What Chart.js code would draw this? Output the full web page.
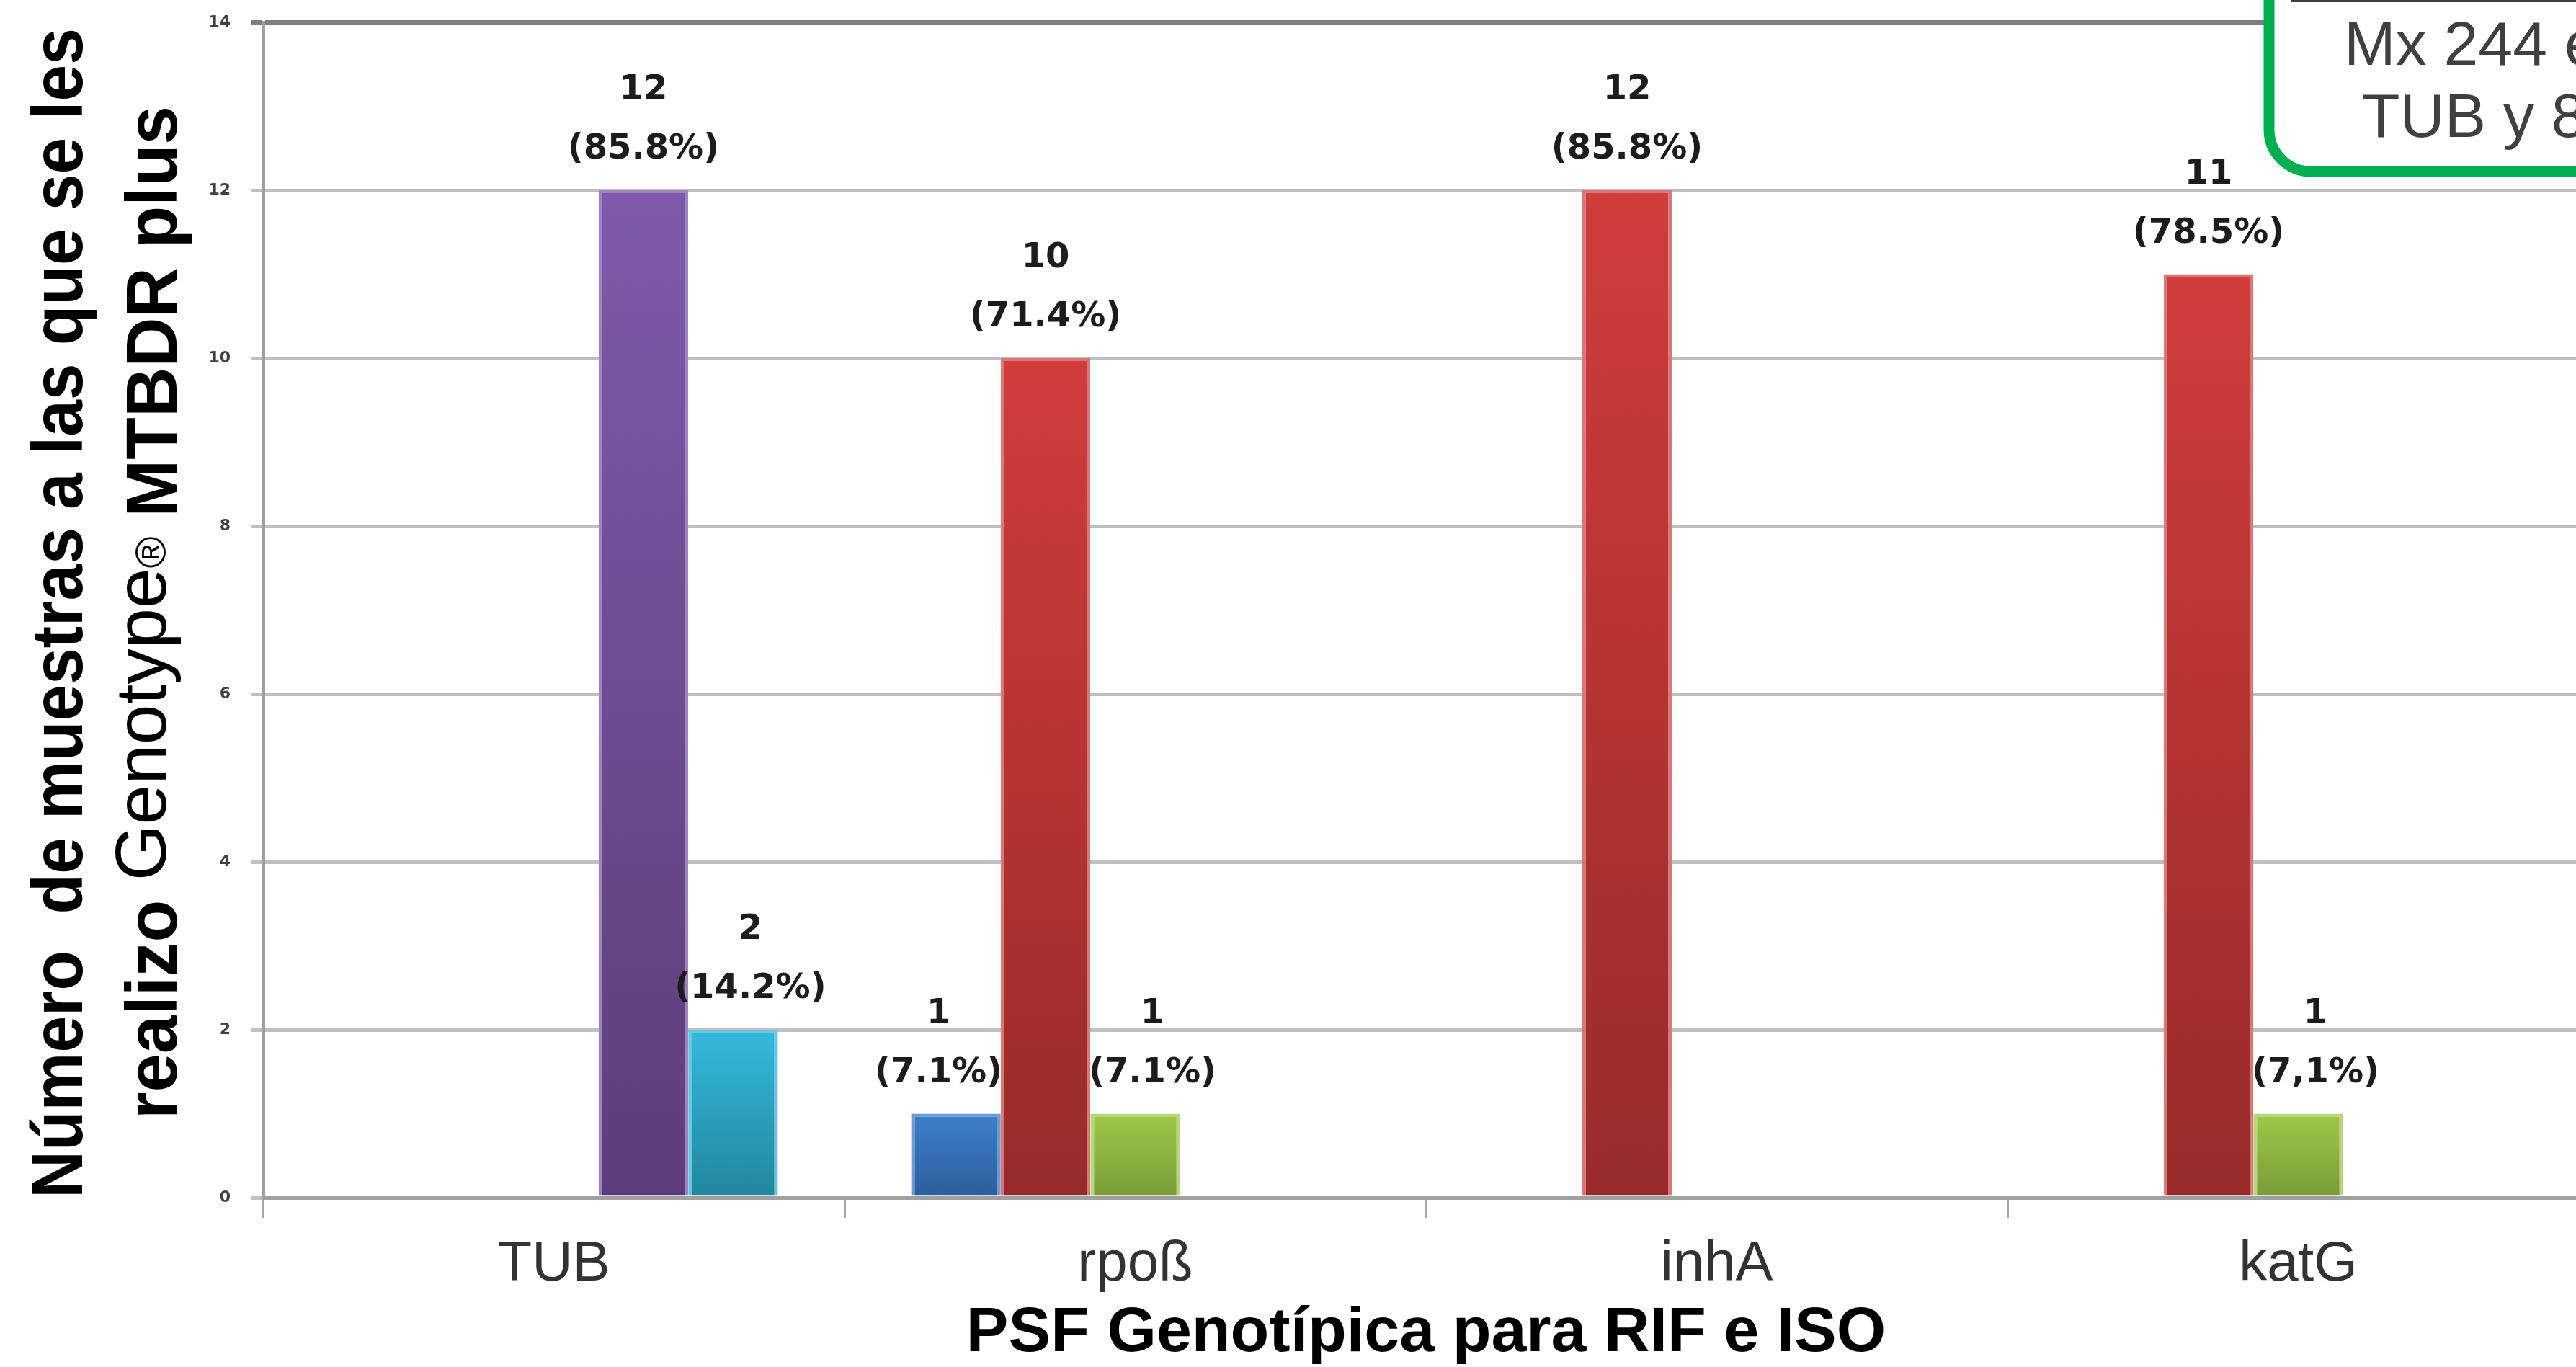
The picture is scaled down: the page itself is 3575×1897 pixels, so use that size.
<!DOCTYPE html>
<html>
<head>
<meta charset="utf-8">
<script src="https://cdn.jsdelivr.net/npm/chart.js@4.4.1/dist/chart.umd.min.js"></script>
<style>
  html, body { margin: 0; padding: 0; background: #fff; overflow: hidden; width: 3575px; height: 1897px; }
  canvas { display: block; }
</style>
</head>
<body>
<canvas id="chart" width="3620" height="1897"></canvas>
<script>
// Categories on the x axis
const categories = ['TUB', 'rpoß', 'inhA', 'katG'];

// Sample counts per series (null = no bar in that group)
const seriesBlue   = [null, 1, null, null];
const seriesRed    = [null, 10, 12, 11];
const seriesGreen  = [null, 1, null, 1];
const seriesPurple = [12, null, null, null];
const seriesCyan   = [2, null, null, null];

// Percentage text shown under each count
const pctBlue   = [null, '(7.1%)', null, null];
const pctRed    = [null, '(71.4%)', '(85.8%)', '(78.5%)'];
const pctGreen  = [null, '(7.1%)', null, '(7,1%)'];
const pctPurple = ['(85.8%)', null, null, null];
const pctCyan   = ['(14.2%)', null, null, null];

// Y axis ticks
const yTicks = [0, 2, 4, 6, 8, 10, 12, 14];

// Axis titles and note box text
const xTitle = 'PSF Genotípica para RIF e ISO';
const yTitleLine1 = 'Número  de muestras a las que se les';
const noteLines = ['Mx 244 e', 'TUB y 8'];

const FONT_SANS = '"Liberation Sans", Arial, sans-serif';

// vertical gradient per bar, from its top down to the baseline
function barFill(top, bottom) {
  return (ctx) => {
    const chart = ctx.chart;
    const y = chart.scales && chart.scales.y;
    if (!chart.chartArea || !y || ctx.raw == null) return top;
    const y1 = y.getPixelForValue(ctx.raw);
    const y0 = y.getPixelForValue(0);
    if (!isFinite(y1) || !isFinite(y0) || y0 === y1) return top;
    const g = chart.ctx.createLinearGradient(0, y1, 0, y0);
    g.addColorStop(0, top);
    g.addColorStop(1, bottom);
    return g;
  };
}

function makeSeries(label, data, pct, top, bottom, edge) {
  return {
    label, data, pct,
    backgroundColor: barFill(top, bottom),
    borderColor: edge,
    borderWidth: { top: 4, left: 5, right: 5, bottom: 0 },
    borderSkipped: 'bottom',
    categoryPercentage: 0.771,
    barPercentage: 1.0
  };
}

// two-line value labels above each bar, nudged (a little) off taller neighbours
const MAX_NUDGE = 24;
const valueLabels = {
  id: 'valueLabels',
  afterDatasetsDraw(chart) {
    const ctx = chart.ctx;
    ctx.save();
    ctx.font = 'bold 48px "DejaVu Sans", Verdana, sans-serif';
    ctx.fillStyle = '#1c1c1c';
    ctx.textAlign = 'center';
    ctx.textBaseline = 'middle';
    chart.data.datasets.forEach((ds, di) => {
      const meta = chart.getDatasetMeta(di);
      meta.data.forEach((bar, i) => {
        const v = ds.data[i];
        if (v == null) return;
        const lines = [String(v), ds.pct[i]];
        const w = Math.max(...lines.map(t => ctx.measureText(t).width));
        const lowY = bar.y - 56;
        const upY = lowY - 82;
        const labelBottom = lowY + 28;
        let shift = 0;
        chart.data.datasets.forEach((other, oj) => {
          if (oj === di || other.data[i] == null) return;
          const nb = chart.getDatasetMeta(oj).data[i];
          if (nb.y > labelBottom) return;
          const half = nb.width / 2;
          if (nb.x < bar.x) {
            const overlap = (nb.x + half) - (bar.x - w / 2);
            if (overlap > 0) shift += Math.min(overlap, MAX_NUDGE);
          } else {
            const overlap = (bar.x + w / 2) - (nb.x - half);
            if (overlap > 0) shift -= Math.min(overlap, MAX_NUDGE);
          }
        });
        const cx = bar.x + shift;
        ctx.fillText(lines[0], cx, upY);
        ctx.fillText(lines[1], cx, lowY);
      });
    });
    ctx.restore();
  }
};

// rotated two-line y axis title with mixed weights
function drawRotated(ctx, segs, centerY, baseX) {
  let total = 0;
  segs.forEach(s => {
    ctx.font = s.font;
    s.w = ctx.measureText(s.text).width * s.sx;
    total += s.w;
  });
  ctx.save();
  ctx.translate(baseX, centerY);
  ctx.rotate(-Math.PI / 2);
  let x = -total / 2;
  segs.forEach(s => {
    ctx.save();
    ctx.font = s.font;
    ctx.translate(x, s.dy || 0);
    ctx.scale(s.sx, 1);
    ctx.fillText(s.text, 0, 0);
    ctx.restore();
    x += s.w;
  });
  ctx.restore();
}

const yTitle = {
  id: 'yTitle',
  afterDraw(chart) {
    const ctx = chart.ctx;
    ctx.save();
    ctx.fillStyle = '#000';
    ctx.textAlign = 'left';
    ctx.textBaseline = 'alphabetic';
    const bold = 'bold 100px ' + FONT_SANS;
    drawRotated(ctx, [{ text: yTitleLine1, font: bold, sx: 0.91 }], 851, 114);
    drawRotated(ctx, [
      { text: 'realizo ', font: bold, sx: 0.96 },
      { text: 'Genotype', font: '100px ' + FONT_SANS, sx: 1.0, dy: -15 },
      { text: '®', font: '60px ' + FONT_SANS, sx: 1.0, dy: -15 },
      { text: ' MTBDR plus', font: bold, sx: 0.96 }
    ], 850, 245);
    ctx.restore();
  }
};

// rounded note box in the upper right corner
const noteBox = {
  id: 'noteBox',
  afterDraw(chart) {
    const ctx = chart.ctx;
    ctx.save();
    ctx.beginPath();
    ctx.roundRect(3149, -120, 700, 358, 58);
    ctx.fillStyle = '#fff';
    ctx.fill();
    ctx.lineWidth = 15;
    ctx.strokeStyle = '#00b050';
    ctx.stroke();
    ctx.fillStyle = '#404040';
    ctx.fillRect(3180, 0, 500, 3);
    ctx.font = '86px ' + FONT_SANS;
    ctx.textAlign = 'left';
    ctx.textBaseline = 'alphabetic';
    ctx.fillText(noteLines[0], 3253, 90);
    ctx.fillText(noteLines[1], 3278, 190);
    ctx.restore();
  }
};

const chart = new Chart(document.getElementById('chart'), {
  type: 'bar',
  data: {
    labels: categories,
    datasets: [
      makeSeries('Azul', seriesBlue, pctBlue, '#3e7fcb', '#2c5e9b', '#6f9bd3'),
      makeSeries('Rojo', seriesRed, pctRed, '#d03d3b', '#982a2b', '#d97878'),
      makeSeries('Verde', seriesGreen, pctGreen, '#9fc846', '#789b38', '#b8d67e'),
      makeSeries('Morado', seriesPurple, pctPurple, '#7f5aab', '#5b3e78', '#a084c0'),
      makeSeries('Celeste', seriesCyan, pctCyan, '#35b9de', '#21869c', '#6ac6e0')
    ]
  },
  options: {
    responsive: false,
    devicePixelRatio: 1,
    animation: false,
    layout: { padding: { left: 0, top: 31, right: 27, bottom: 0 } },
    plugins: {
      legend: { display: false },
      tooltip: { enabled: false }
    },
    scales: {
      x: {
        offset: true,
        afterFit: (s) => { s.height = 235; },
        grid: {
          offset: true,
          drawOnChartArea: false,
          tickLength: 28,
          color: '#a6a6a6',
          lineWidth: 3
        },
        border: { color: '#a0a0a0', width: 5 },
        ticks: {
          color: '#333',
          font: { family: FONT_SANS, size: 78 },
          padding: 19,
          maxRotation: 0,
          autoSkip: false
        },
        title: {
          display: true,
          text: xTitle,
          color: '#000',
          font: { family: FONT_SANS, size: 88, weight: 'bold', lineHeight: 1 },
          padding: { top: 0, bottom: 2 }
        }
      },
      y: {
        min: 0,
        max: 14,
        afterFit: (s) => { s.width = 365; s.paddingTop = 0; s.paddingBottom = 0; },
        afterBuildTicks: (s) => { s.ticks = yTicks.map(v => ({ value: v })); },
        grid: {
          color: (c) => (c.tick && c.tick.value === 14) ? '#7f7f7f' : '#bfbfbf',
          lineWidth: (c) => (c.tick && c.tick.value === 14) ? 7 : 5,
          tickLength: 17
        },
        border: { color: '#a0a0a0', width: 5 },
        ticks: {
          color: '#404040',
          font: { family: '"DejaVu Sans", Verdana, sans-serif', size: 22, weight: 'bold' },
          padding: 28
        }
      }
    }
  },
  plugins: [valueLabels, yTitle, noteBox]
});
chart.update();
</script>
</body>
</html>
